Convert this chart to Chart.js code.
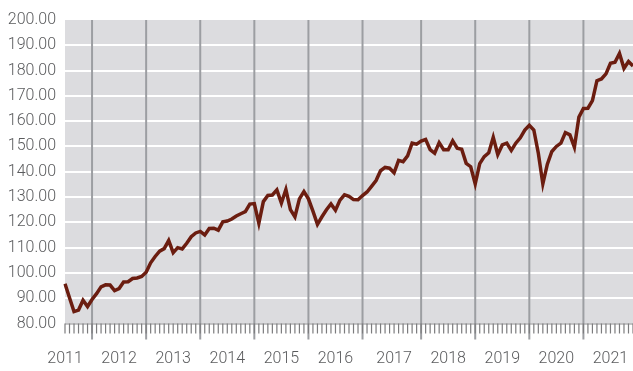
<!DOCTYPE html>
<html>
<head>
<meta charset="utf-8">
<script src="https://cdn.jsdelivr.net/npm/chart.js@4/dist/chart.umd.min.js"></script>
<style>
  html, body { margin: 0; padding: 0; background: #ffffff; }
  #wrap { width: 633px; height: 371px; }
</style>
</head>
<body>
<div id="wrap"><canvas id="chart" width="633" height="371"></canvas></div>
<script>
// Year groups along the time axis and how many observations fall in each
const years = ['2011', '2012', '2013', '2014', '2015', '2016', '2017', '2018', '2019', '2020', '2021'];
const pointsPerYear = [6, 12, 12, 12, 12, 12, 13, 12, 12, 12, 12];

// Index level, one value per observation
const values2011 = [95.7, 90.2, 84.7, 85.3, 89.2, 86.7];
const values2012 = [89.5, 91.8, 94.5, 95.3, 95.2, 93.0, 93.8, 96.4, 96.5, 97.8, 98.0, 98.6];
const values2013 = [100.3, 104.0, 106.5, 108.6, 109.6, 112.8, 108.0, 110.0, 109.5, 111.7, 114.3, 115.8];
const values2014 = [116.4, 115.0, 117.6, 117.7, 116.9, 120.2, 120.5, 121.3, 122.5, 123.4, 124.2, 127.2];
const values2015 = [127.4, 119.6, 128.2, 130.6, 130.8, 132.8, 127.6, 133.0, 125.0, 122.2, 129.3, 132.2];
const values2016 = [129.3, 124.4, 119.2, 122.2, 125.0, 127.3, 124.8, 128.8, 130.9, 130.3, 129.0, 128.9];
const values2017 = [130.6, 132.0, 134.2, 136.5, 140.4, 141.7, 141.4, 139.6, 144.5, 144.0, 146.3, 151.3, 150.9];
const values2018 = [152.1, 152.8, 148.7, 147.3, 151.5, 148.7, 148.7, 152.2, 149.3, 148.9, 143.3, 142.0];
const values2019 = [135.2, 143.2, 146.0, 147.5, 153.6, 146.8, 150.6, 151.3, 148.4, 151.3, 153.4, 156.5];
const values2020 = [158.4, 156.5, 147.3, 135.2, 143.0, 148.0, 150.0, 151.3, 155.5, 154.6, 149.7, 161.6];
const values2021 = [165.0, 165.1, 168.1, 176.0, 176.7, 178.7, 182.9, 183.3, 186.8, 180.9, 183.6, 181.8];

// Value axis range and tick step
const yMin = 80;
const yMax = 200;
const yStep = 10;

const values = [].concat(values2011, values2012, values2013, values2014, values2015,
  values2016, values2017, values2018, values2019, values2020, values2021);

// One category per observation, e.g. "2017 #3"
const labels = [];
years.forEach((y, k) => {
  for (let n = 1; n <= pointsPerYear[k]; n++) labels.push(y + ' #' + n);
});

// Index where each year begins (first year is a partial year)
const yearStarts = [];
{
  let acc = 0;
  pointsPerYear.forEach((c) => { yearStarts.push(acc); acc += c; });
}

const TEXT_COLOR = '#5a5b5d';
const FONT_FAMILY = 'Roboto, "Liberation Sans", sans-serif';

// Plot background, year separators, month ticks and year labels
const decorations = {
  id: 'decorations',
  beforeDraw(chart) {
    const { ctx, chartArea: a } = chart;
    ctx.save();
    ctx.fillStyle = '#dcdcdf';
    ctx.fillRect(a.left, a.top, a.right - a.left, a.bottom - a.top);
    ctx.restore();
  },
  beforeDatasetsDraw(chart) {
    const { ctx, chartArea: a, scales: { x } } = chart;
    ctx.save();
    ctx.strokeStyle = '#9c9ea2';
    ctx.lineWidth = 2;
    yearStarts.slice(1).forEach((i) => {
      const px = x.getPixelForValue(i);
      ctx.beginPath();
      ctx.moveTo(px, a.top);
      ctx.lineTo(px, a.bottom + 16);
      ctx.stroke();
    });
    ctx.restore();
  },
  afterDraw(chart) {
    const { ctx, chartArea: a, scales: { x } } = chart;
    ctx.save();
    // axis base line
    ctx.strokeStyle = '#8e8e90';
    ctx.lineWidth = 1;
    ctx.beginPath();
    ctx.moveTo(a.left, a.bottom + 0.5);
    ctx.lineTo(a.right, a.bottom + 0.5);
    ctx.stroke();
    // one tick per observation
    ctx.strokeStyle = '#7c7c7e';
    ctx.lineWidth = 1.2;
    for (let i = 0; i < labels.length; i++) {
      const px = x.getPixelForValue(i);
      ctx.beginPath();
      ctx.moveTo(px, a.bottom);
      ctx.lineTo(px, a.bottom + 10);
      ctx.stroke();
    }
    // year labels centred on each year's span
    ctx.fillStyle = TEXT_COLOR;
    ctx.font = '300 16px ' + FONT_FAMILY;
    ctx.textAlign = 'center';
    ctx.textBaseline = 'middle';
    years.forEach((y, k) => {
      const end = yearStarts[k] + pointsPerYear[k];
      const start = end - 12;
      const mid = (start + end) / 2;
      ctx.fillText(y, x.getPixelForValue(mid), a.bottom + 35);
    });
    ctx.restore();
  }
};

new Chart(document.getElementById('chart'), {
  type: 'line',
  data: {
    labels: labels,
    datasets: [{
      data: values,
      borderColor: '#6b1d10',
      borderWidth: 3.5,
      pointRadius: 0,
      tension: 0,
      fill: false
    }]
  },
  options: {
    responsive: false,
    animation: false,
    devicePixelRatio: 1,
    layout: { padding: { top: 20, right: 0, bottom: 0, left: 0 } },
    plugins: { legend: { display: false }, tooltip: { enabled: false } },
    scales: {
      x: {
        type: 'category',
        offset: false,
        grid: { display: false, drawTicks: false },
        border: { display: false },
        ticks: { display: false, autoSkip: false },
        afterFit(scale) { scale.height = 47.5; }
      },
      y: {
        min: yMin,
        max: yMax,
        ticks: {
          stepSize: yStep,
          padding: 9,
          color: TEXT_COLOR,
          font: { family: FONT_FAMILY, size: 16, weight: '300' },
          callback: (v) => Number(v).toFixed(2)
        },
        grid: {
          drawTicks: false,
          lineWidth: 2,
          color: (c) => (c.tick && (c.tick.value === yMin || c.tick.value === yMax)) ? 'rgba(0,0,0,0)' : '#ffffff'
        },
        border: { display: false },
        afterFit(scale) { scale.width = 65; }
      }
    }
  },
  plugins: [decorations]
});
</script>
</body>
</html>
